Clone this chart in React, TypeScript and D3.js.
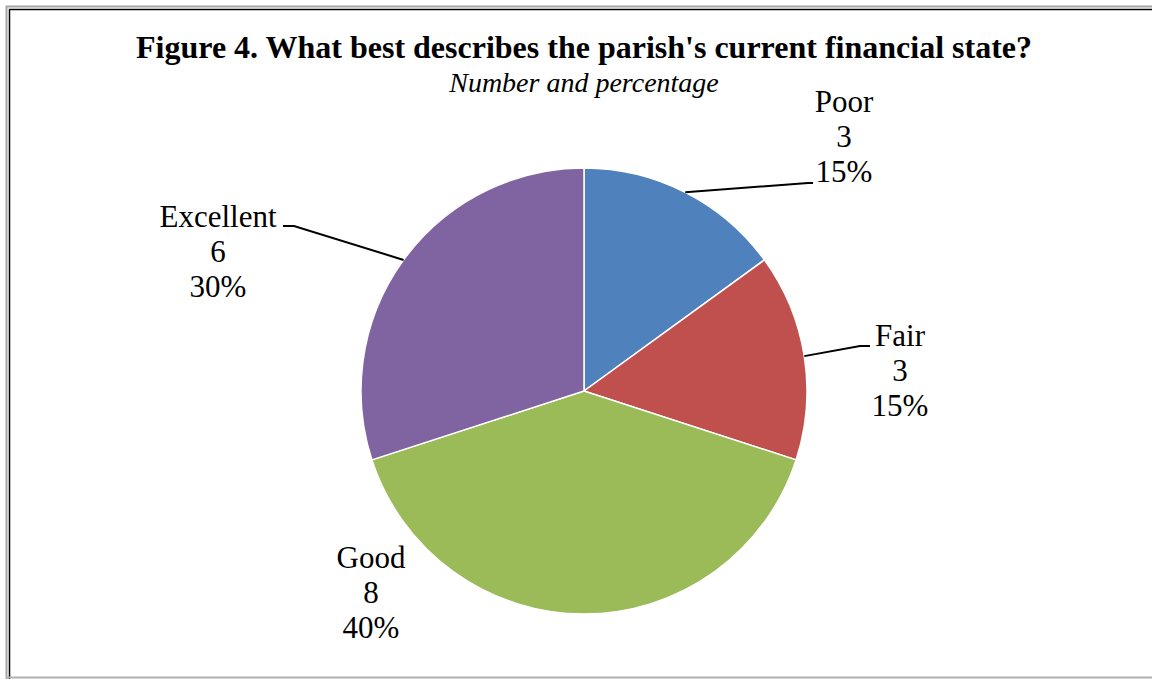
import React from "react";
import * as d3 from "d3";

const categories = ["Poor", "Fair", "Good", "Excellent"];
const counts = [3, 3, 8, 6];
const percents = ["15%", "15%", "40%", "30%"];
const colors = ["#4F81BD", "#C0504D", "#9BBB59", "#8064A2"];

const W = 1152;
const H = 679;
const CX = 584;
const CY = 391;
const R = 223;
const FONT = "'Liberation Serif', 'Times New Roman', serif";

// label layout: center x, first baseline, leader elbow and horizontal end
const labelLayout = [
  { x: 844, y: 112, elbow: [808, 183], end: [813, 183] },
  { x: 900, y: 346, elbow: [860, 346], end: [870, 346] },
  { x: 371, y: 568, elbow: null, end: null },
  { x: 218, y: 227, elbow: [294, 226], end: [283, 226] },
];

export default function App() {
  const data = categories.map((c, i) => ({ c, v: counts[i], p: percents[i], i }));
  const pie = d3
    .pie<any>()
    .sort(null)
    .value((d) => d.v)
    .startAngle(0)
    .endAngle(2 * Math.PI);
  const arcs = pie(data);
  const arc = d3.arc<any>().innerRadius(0).outerRadius(R);
  const lineH = 35;

  return (
    <svg
      width={W}
      height={H}
      style={{ position: "absolute", left: 0, top: 0, background: "#fff" }}
    >
      <rect x={0} y={0} width={W} height={H} fill="#fff" />
      <path d={`M6.5,${H} V6.5 H${W + 5}`} fill="none" stroke="#a6a6a6" strokeWidth={2} />
      <path d={`M9.5,${H} V9.5 H${W + 5}`} fill="none" stroke="#000" strokeWidth={1.5} />
      <line x1={6} x2={W + 5} y1={677.5} y2={677.5} stroke="#b0b0b0" strokeWidth={2} />

      <text
        x={584}
        y={58}
        textAnchor="middle"
        fontFamily={FONT}
        fontWeight="bold"
        fontSize={32}
      >
        Figure 4. What best describes the parish's current financial state?
      </text>
      <text
        x={584}
        y={92}
        textAnchor="middle"
        fontFamily={FONT}
        fontStyle="italic"
        fontSize={28}
      >
        Number and percentage
      </text>

      <g transform={`translate(${CX},${CY})`}>
        {arcs.map((a, i) => (
          <path key={i} d={arc(a) as string} fill={colors[i]} stroke="#fff" strokeWidth={1.5} />
        ))}
      </g>

      {arcs.map((a, i) => {
        const L = labelLayout[i];
        if (!L.elbow) return null;
        const mid = (a.startAngle + a.endAngle) / 2;
        const sx = CX + R * Math.sin(mid);
        const sy = CY - R * Math.cos(mid);
        return (
          <polyline
            key={"l" + i}
            points={`${sx},${sy} ${L.elbow[0]},${L.elbow[1]} ${L.end![0]},${L.end![1]}`}
            fill="none"
            stroke="#000"
            strokeWidth={2}
          />
        );
      })}

      {data.map((d, i) => {
        const L = labelLayout[i];
        return (
          <text key={"t" + i} textAnchor="middle" fontFamily={FONT} fontSize={31} fill="#000">
            <tspan x={L.x} y={L.y}>{d.c}</tspan>
            <tspan x={L.x} y={L.y + lineH}>{d.v}</tspan>
            <tspan x={L.x} y={L.y + 2 * lineH}>{d.p}</tspan>
          </text>
        );
      })}
    </svg>
  );
}
